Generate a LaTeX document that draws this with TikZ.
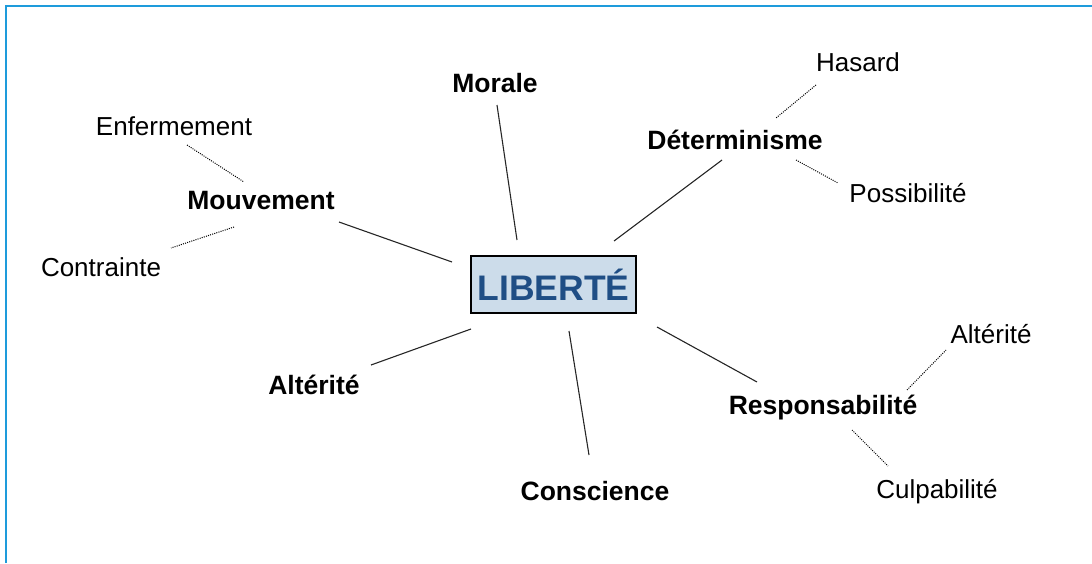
\documentclass[tikz,border=0pt]{standalone}
\usepackage{fontspec}
\setmainfont{Liberation Sans}
\definecolor{framec}{HTML}{1E9BDB}
\definecolor{libfill}{HTML}{CCDCEA}
\definecolor{libtext}{HTML}{1F4E85}
\begin{document}
\begin{tikzpicture}[x=1pt,y=-1pt,
  main/.style={font=\fontsize{26.5}{30}\selectfont\bfseries, inner sep=0pt},
  sub/.style={font=\fontsize{26}{30}\selectfont, inner sep=0pt},
  link/.style={draw=black!85, line width=1.1pt},
  dotlink/.style={draw=black, line width=1pt, dash pattern=on 1pt off 1.2pt}]
\useasboundingbox (0,0) rectangle (1092,563);
\draw[framec, line width=2pt] (6,563) -- (6,6) -- (1092,6);
\node[draw=black, line width=1.8pt, fill=libfill, minimum width=165pt, minimum height=57pt, inner sep=0pt,
  text=libtext, font=\fontsize{35.5}{40}\selectfont\bfseries] (lib) at (553.5,284.5) {LIBERTÉ};
\node[main] (morale) at (495,83) {Morale};
\node[main] (det) at (735,140) {Déterminisme};
\node[sub] (hasard) at (858,62) {Hasard};
\node[sub] (poss) at (908,193) {Possibilité};
\node[sub] (enf) at (174,126) {Enfermement};
\node[main] (mouv) at (261,201) {Mouvement};
\node[sub] (contr) at (101,267) {Contrainte};
\node[main] (alt) at (314,385) {Altérité};
\node[main] (consc) at (595,491) {Conscience};
\node[main] (resp) at (823,408) {Responsabilité};
\node[sub] (alt2) at (991,334) {Altérité};
\node[sub] (culp) at (937,492) {Culpabilité};
% endpoints
\coordinate (m1) at (497,105); \coordinate (m2) at (517,240);
\coordinate (d1) at (722,160); \coordinate (d2) at (614,241);
\coordinate (v1) at (339,222); \coordinate (v2) at (452,262);
\coordinate (a1) at (371,365); \coordinate (a2) at (471,329);
\coordinate (c1) at (589,455); \coordinate (c2) at (569,331);
\coordinate (r1) at (757,382); \coordinate (r2) at (657,327);
\coordinate (h1) at (816,85); \coordinate (h2) at (776,118);
\coordinate (p1) at (796,160); \coordinate (p2) at (838,183);
\coordinate (e1) at (187,145); \coordinate (e2) at (244,182);
\coordinate (t1) at (234,227); \coordinate (t2) at (171,248);
\coordinate (s1) at (907,390); \coordinate (s2) at (946,350);
\coordinate (u1) at (852,430); \coordinate (u2) at (888,466);
\draw[link] (m1) -- (m2);
\draw[link] (d1) -- (d2);
\draw[link] (v1) -- (v2);
\draw[link] (a1) -- (a2);
\draw[link] (c1) -- (c2);
\draw[link] (r1) -- (r2);
\draw[dotlink] (h1) -- (h2);
\draw[dotlink] (p1) -- (p2);
\draw[dotlink] (e1) -- (e2);
\draw[dotlink] (t1) -- (t2);
\draw[dotlink] (s1) -- (s2);
\draw[dotlink] (u1) -- (u2);
\end{tikzpicture}
\end{document}
